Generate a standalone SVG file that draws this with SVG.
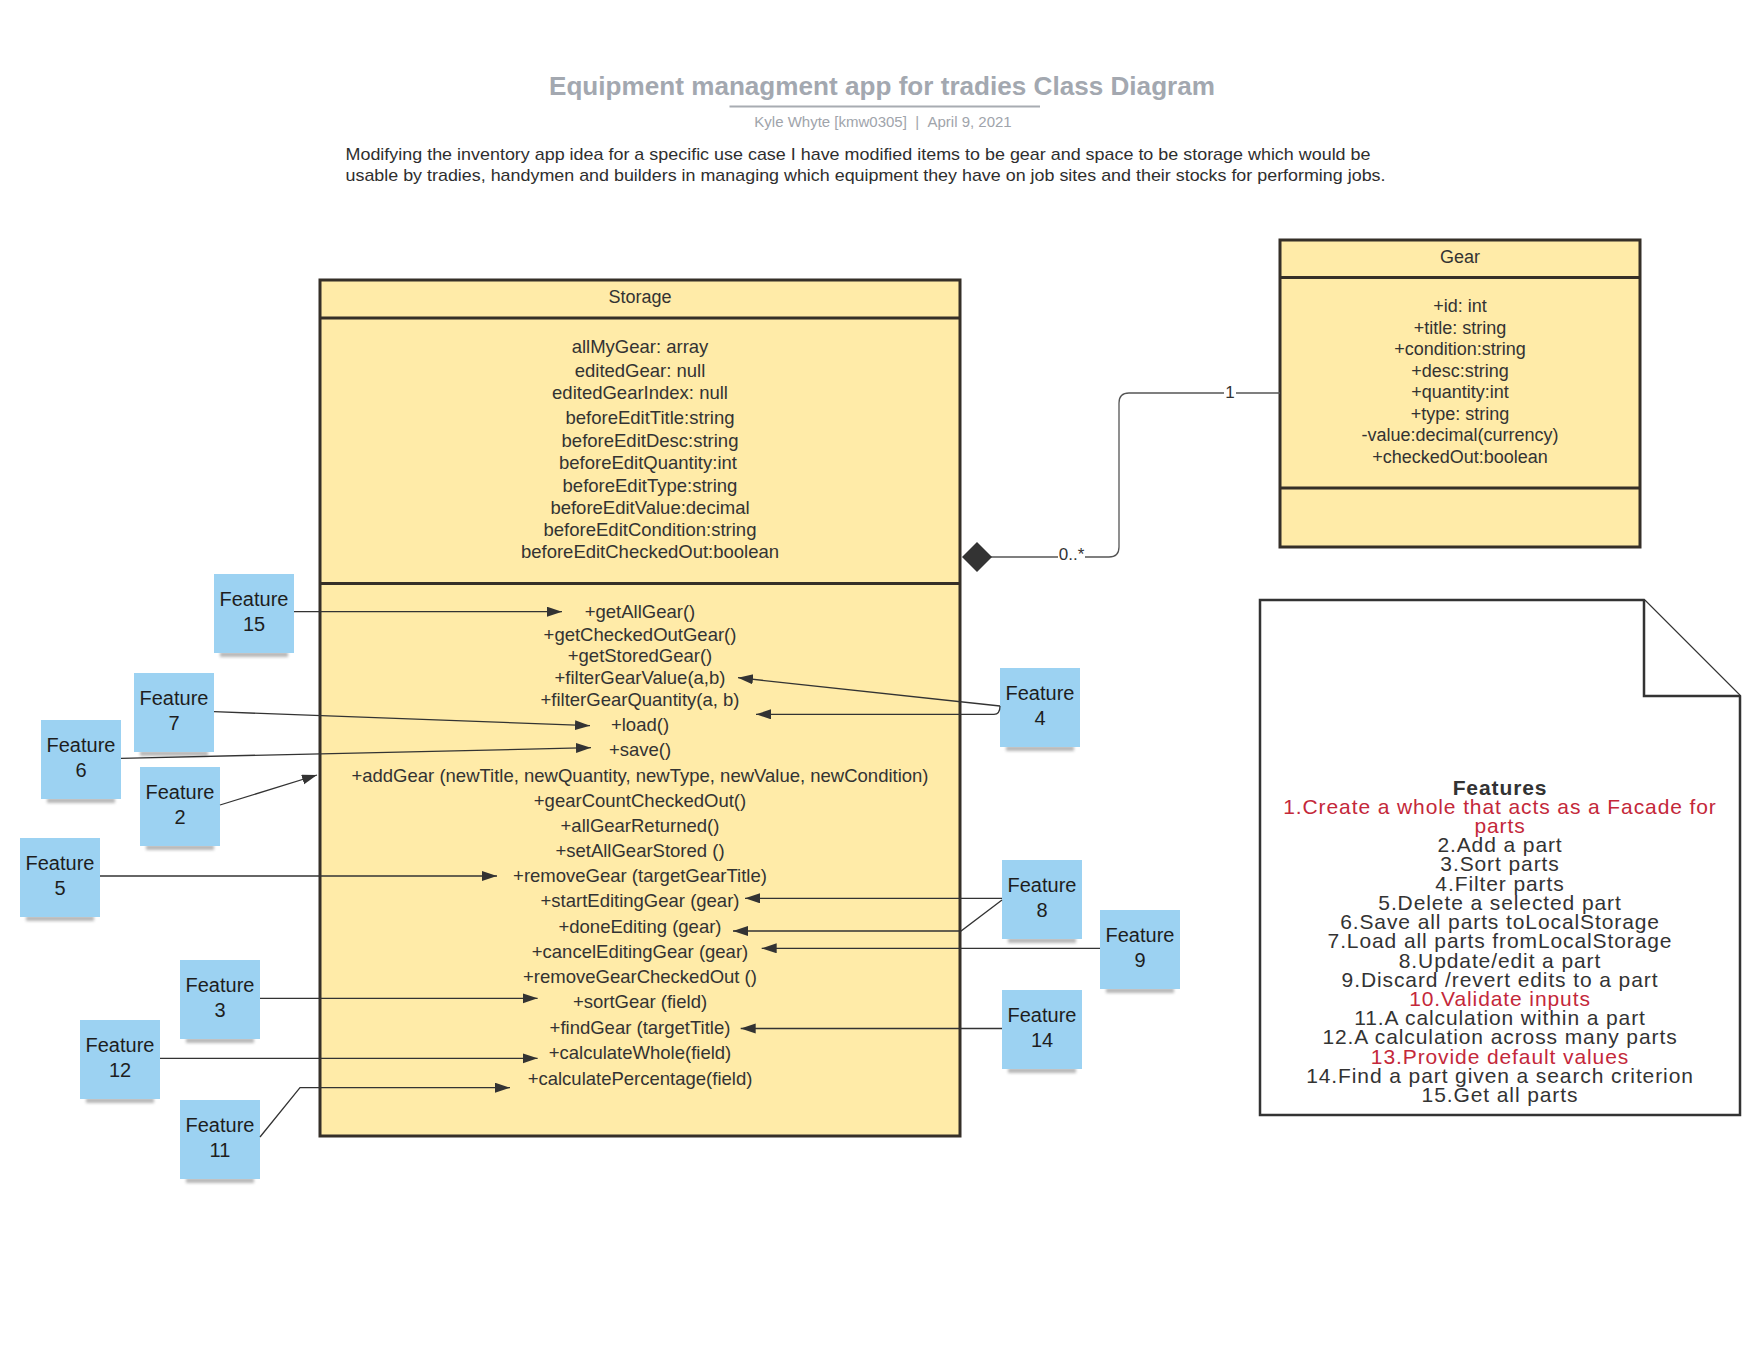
<svg xmlns="http://www.w3.org/2000/svg" width="1760" height="1360" viewBox="0 0 1760 1360">
  <style>
    text { font-family: "Liberation Sans", Arial, sans-serif; }
    .title { font-size: 26px; font-weight: bold; fill: #a3a8b0; text-anchor: middle; }
    .sub { font-size: 15px; fill: #a0a4ab; text-anchor: middle; }
    .desc { font-size: 17px; fill: #2e2e2e; }
    .cls { fill: #ffeba8; stroke: #352f28; stroke-width: 3; }
    .div { stroke: #352f28; stroke-width: 3; }
    .hdr { font-size: 18px; fill: #333; text-anchor: middle; }
    .mem { font-size: 18.5px; fill: #333; text-anchor: middle; }
    .gmem { font-size: 18px; fill: #333; text-anchor: middle; }
    .sticky { fill: #9cd2f2; }
    .shadow { fill: #7a7a7a; opacity: 0.55; filter: url(#soft); }
    .stxt { font-size: 20px; fill: #1e1e1e; text-anchor: middle; }
    .note { fill: #ffffff; stroke: #333; stroke-width: 2.5; stroke-linejoin: miter; }
    .ntxt { font-size: 21px; fill: #333; text-anchor: middle; letter-spacing: 0.9px; }
    .nred { fill: #c4283a; }
    .link { fill: none; stroke: #333; stroke-width: 1.3; marker-end: url(#arrow); }
    .assoc { fill: none; stroke: #555; stroke-width: 1.3; }
    .mult { font-size: 17px; fill: #333; text-anchor: middle; }
  </style>
  <defs>
    <marker id="arrow" markerUnits="userSpaceOnUse" markerWidth="16" markerHeight="11" refX="15" refY="5" orient="auto">
      <path d="M0,0 L15,5 L0,10 Z" fill="#333"/>
    </marker>
    <filter id="soft" x="-20%" y="-100%" width="140%" height="300%">
      <feGaussianBlur stdDeviation="1.5"/>
    </filter>
  </defs>

  <rect width="1760" height="1360" fill="#ffffff"/>

  <!-- heading block -->
  <g id="heading">
    <text class="title" x="882" y="95" textLength="666" lengthAdjust="spacingAndGlyphs">Equipment managment app for tradies Class Diagram</text>
    <line x1="729.5" y1="106.5" x2="1040" y2="106.5" stroke="#a8acb2" stroke-width="2"/>
    <text class="sub" x="883" y="127">Kyle Whyte [kmw0305] &#160;| &#160;April 9, 2021</text>
    <text class="desc" x="345.5" y="159.5" textLength="1025" lengthAdjust="spacingAndGlyphs">Modifying the inventory app idea for a specific use case I have modified items to be gear and space to be storage which would be</text>
    <text class="desc" x="345.5" y="180.5" textLength="1040" lengthAdjust="spacingAndGlyphs">usable by tradies, handymen and builders in managing which equipment they have on job sites and their stocks for performing jobs.</text>
  </g>

  <!-- Storage class -->
  <g id="storage">
    <rect class="cls" x="320" y="280" width="640" height="856"/>
    <line class="div" x1="320" y1="318" x2="960" y2="318"/>
    <line class="div" x1="320" y1="583.5" x2="960" y2="583.5"/>
    <text class="hdr" x="640" y="303">Storage</text>
    <text class="mem" x="640" y="352.5">allMyGear: array</text>
    <text class="mem" x="640" y="376.5">editedGear: null</text>
    <text class="mem" x="640" y="398.5">editedGearIndex: null</text>
    <text class="mem" x="650" y="424">beforeEditTitle:string</text>
    <text class="mem" x="650" y="446.5">beforeEditDesc:string</text>
    <text class="mem" x="648" y="469">beforeEditQuantity:int</text>
    <text class="mem" x="650" y="491.5">beforeEditType:string</text>
    <text class="mem" x="650" y="514">beforeEditValue:decimal</text>
    <text class="mem" x="650" y="536">beforeEditCondition:string</text>
    <text class="mem" x="650" y="558">beforeEditCheckedOut:boolean</text>
    <text class="mem" x="640" y="618">+getAllGear()</text>
    <text class="mem" x="640" y="640.5">+getCheckedOutGear()</text>
    <text class="mem" x="640" y="662">+getStoredGear()</text>
    <text class="mem" x="640" y="684">+filterGearValue(a,b)</text>
    <text class="mem" x="640" y="706">+filterGearQuantity(a, b)</text>
    <text class="mem" x="640" y="731">+load()</text>
    <text class="mem" x="640" y="756">+save()</text>
    <text class="mem" x="640" y="781.5">+addGear (newTitle, newQuantity, newType, newValue, newCondition)</text>
    <text class="mem" x="640" y="806.5">+gearCountCheckedOut()</text>
    <text class="mem" x="640" y="831.5">+allGearReturned()</text>
    <text class="mem" x="640" y="857">+setAllGearStored ()</text>
    <text class="mem" x="640" y="882">+removeGear (targetGearTitle)</text>
    <text class="mem" x="640" y="907">+startEditingGear (gear)</text>
    <text class="mem" x="640" y="933">+doneEditing (gear)</text>
    <text class="mem" x="640" y="958">+cancelEditingGear (gear)</text>
    <text class="mem" x="640" y="983">+removeGearCheckedOut ()</text>
    <text class="mem" x="640" y="1008">+sortGear (field)</text>
    <text class="mem" x="640" y="1034">+findGear (targetTitle)</text>
    <text class="mem" x="640" y="1059">+calculateWhole(field)</text>
    <text class="mem" x="640" y="1085">+calculatePercentage(field)</text>
  </g>

  <!-- Gear class -->
  <g id="gear">
    <rect class="cls" x="1280" y="240" width="360" height="307"/>
    <line class="div" x1="1280" y1="277.5" x2="1640" y2="277.5"/>
    <line class="div" x1="1280" y1="488" x2="1640" y2="488"/>
    <text class="hdr" x="1460" y="263">Gear</text>
    <text class="gmem" x="1460" y="312">+id: int</text>
    <text class="gmem" x="1460" y="333.5">+title: string</text>
    <text class="gmem" x="1460" y="355">+condition:string</text>
    <text class="gmem" x="1460" y="376.5">+desc:string</text>
    <text class="gmem" x="1460" y="398">+quantity:int</text>
    <text class="gmem" x="1460" y="419.5">+type: string</text>
    <text class="gmem" x="1460" y="441">-value:decimal(currency)</text>
    <text class="gmem" x="1460" y="462.5">+checkedOut:boolean</text>
  </g>

  <!-- Features note -->
  <g id="features-note">
    <path class="note" d="M1260,600 L1644,600 L1740,696 L1740,1115 L1260,1115 Z"/>
    <path class="note" d="M1644,600 L1644,696 L1740,696" fill="none"/>
    <text class="ntxt" x="1500" y="794.5" font-weight="bold">Features</text>
    <text class="ntxt nred" x="1500" y="813.7">1.Create a whole that acts as a Facade for</text>
    <text class="ntxt nred" x="1500" y="832.9">parts</text>
    <text class="ntxt" x="1500" y="852.2">2.Add a part</text>
    <text class="ntxt" x="1500" y="871.4">3.Sort parts</text>
    <text class="ntxt" x="1500" y="890.6">4.Filter parts</text>
    <text class="ntxt" x="1500" y="909.8">5.Delete a selected part</text>
    <text class="ntxt" x="1500" y="929">6.Save all parts toLocalStorage</text>
    <text class="ntxt" x="1500" y="948.3">7.Load all parts fromLocalStorage</text>
    <text class="ntxt" x="1500" y="967.5">8.Update/edit a part</text>
    <text class="ntxt" x="1500" y="986.7">9.Discard /revert edits to a part</text>
    <text class="ntxt nred" x="1500" y="1005.9">10.Validate inputs</text>
    <text class="ntxt" x="1500" y="1025.1">11.A calculation within a part</text>
    <text class="ntxt" x="1500" y="1044.4">12.A calculation across many parts</text>
    <text class="ntxt nred" x="1500" y="1063.6">13.Provide default values</text>
    <text class="ntxt" x="1500" y="1082.8">14.Find a part given a search criterion</text>
    <text class="ntxt" x="1500" y="1102">15.Get all parts</text>
  </g>

  <!-- feature sticky notes -->
  <g id="feature-15">
    <rect class="shadow" x="220" y="652" width="68" height="5"/>
    <rect class="sticky" x="214" y="574" width="80" height="79"/>
    <text class="stxt" x="254" y="606">Feature</text>
    <text class="stxt" x="254" y="630.5">15</text>
  </g>
  <g id="feature-7">
    <rect class="shadow" x="140" y="751" width="68" height="5"/>
    <rect class="sticky" x="134" y="673" width="80" height="79"/>
    <text class="stxt" x="174" y="705">Feature</text>
    <text class="stxt" x="174" y="729.5">7</text>
  </g>
  <g id="feature-6">
    <rect class="shadow" x="47" y="798" width="68" height="5"/>
    <rect class="sticky" x="41" y="720" width="80" height="79"/>
    <text class="stxt" x="81" y="752">Feature</text>
    <text class="stxt" x="81" y="776.5">6</text>
  </g>
  <g id="feature-2">
    <rect class="shadow" x="146" y="845" width="68" height="5"/>
    <rect class="sticky" x="140" y="767" width="80" height="79"/>
    <text class="stxt" x="180" y="799">Feature</text>
    <text class="stxt" x="180" y="823.5">2</text>
  </g>
  <g id="feature-5">
    <rect class="shadow" x="26" y="916" width="68" height="5"/>
    <rect class="sticky" x="20" y="838" width="80" height="79"/>
    <text class="stxt" x="60" y="870">Feature</text>
    <text class="stxt" x="60" y="894.5">5</text>
  </g>
  <g id="feature-3">
    <rect class="shadow" x="186" y="1038" width="68" height="5"/>
    <rect class="sticky" x="180" y="960" width="80" height="79"/>
    <text class="stxt" x="220" y="992">Feature</text>
    <text class="stxt" x="220" y="1016.5">3</text>
  </g>
  <g id="feature-12">
    <rect class="shadow" x="86" y="1098" width="68" height="5"/>
    <rect class="sticky" x="80" y="1020" width="80" height="79"/>
    <text class="stxt" x="120" y="1052">Feature</text>
    <text class="stxt" x="120" y="1076.5">12</text>
  </g>
  <g id="feature-11">
    <rect class="shadow" x="186" y="1178" width="68" height="5"/>
    <rect class="sticky" x="180" y="1100" width="80" height="79"/>
    <text class="stxt" x="220" y="1132">Feature</text>
    <text class="stxt" x="220" y="1156.5">11</text>
  </g>
  <g id="feature-4">
    <rect class="shadow" x="1006" y="746" width="68" height="5"/>
    <rect class="sticky" x="1000" y="668" width="80" height="79"/>
    <text class="stxt" x="1040" y="700">Feature</text>
    <text class="stxt" x="1040" y="724.5">4</text>
  </g>
  <g id="feature-8">
    <rect class="shadow" x="1008" y="938" width="68" height="5"/>
    <rect class="sticky" x="1002" y="860" width="80" height="79"/>
    <text class="stxt" x="1042" y="892">Feature</text>
    <text class="stxt" x="1042" y="916.5">8</text>
  </g>
  <g id="feature-9">
    <rect class="shadow" x="1106" y="988" width="68" height="5"/>
    <rect class="sticky" x="1100" y="910" width="80" height="79"/>
    <text class="stxt" x="1140" y="942">Feature</text>
    <text class="stxt" x="1140" y="966.5">9</text>
  </g>
  <g id="feature-14">
    <rect class="shadow" x="1008" y="1068" width="68" height="5"/>
    <rect class="sticky" x="1002" y="990" width="80" height="79"/>
    <text class="stxt" x="1042" y="1022">Feature</text>
    <text class="stxt" x="1042" y="1046.5">14</text>
  </g>

  <!-- connectors -->
  <g id="connectors">
    <!-- Storage (whole) to Gear (part) composition -->
    <path class="assoc" d="M991,557 L1109,557 Q1119,557 1119,547 L1119,403 Q1119,393 1129,393 L1280,393"/>
    <path d="M962,557 L977,542 L992,557 L977,572 Z" fill="#333"/>
    <rect x="1058" y="545" width="27" height="20" fill="#ffffff"/>
    <text class="mult" x="1071.5" y="560">0..*</text>
    <rect x="1224" y="383" width="12" height="20" fill="#ffffff"/>
    <text class="mult" x="1230" y="398">1</text>

    <!-- feature links to methods -->
    <path class="link" d="M294,611.7 L562,611.7"/>
    <path class="link" d="M214,711.7 L590,725.7"/>
    <path class="link" d="M121,758.3 L591,747.7"/>
    <path class="link" d="M220,805 L317,775"/>
    <path class="link" d="M100,876 L497,876"/>
    <path class="link" d="M260,998.3 L537.6,998.3"/>
    <path class="link" d="M160,1058.3 L537.6,1058.3"/>
    <path class="link" d="M260,1137 L300,1087.7 L510,1087.7"/>
    <path class="link" d="M1000,706 L738,677.7"/>
    <path class="link" d="M1000,706 Q1000,714.3 994,714.3 L756,714.3"/>
    <path class="link" d="M1002,898.3 L745,898.3"/>
    <path class="link" d="M1002,900 L961,931 L733,931"/>
    <path class="link" d="M1100,948.3 L761.7,948.3"/>
    <path class="link" d="M1002,1028.5 L740.7,1028.5"/>
  </g>
</svg>
